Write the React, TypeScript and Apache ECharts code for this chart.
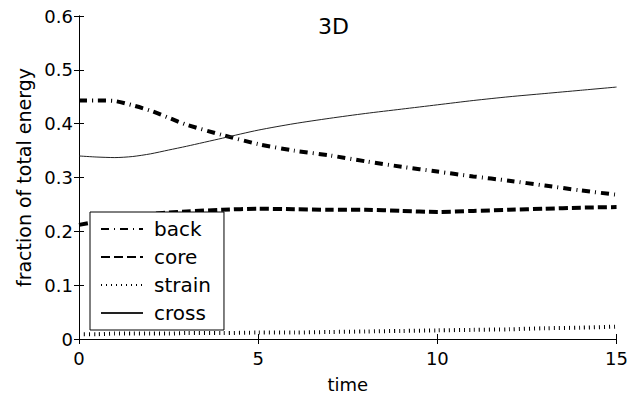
import React, { useEffect, useRef } from "react";
import * as echarts from "echarts";

const times = [0, 0.5, 1, 1.5, 2, 2.5, 3, 4, 5, 6, 7, 8, 9, 10, 11, 12, 13, 14, 15];
const back = [0.443, 0.443, 0.442, 0.434, 0.424, 0.411, 0.398, 0.379, 0.362, 0.35, 0.341, 0.33, 0.32, 0.311, 0.302, 0.294, 0.285, 0.276, 0.268];
const core = [0.212, 0.218, 0.225, 0.229, 0.232, 0.235, 0.237, 0.24, 0.242, 0.241, 0.24, 0.24, 0.238, 0.236, 0.238, 0.24, 0.242, 0.244, 0.245];
const strain = [0.009, 0.009, 0.01, 0.01, 0.01, 0.01, 0.011, 0.011, 0.012, 0.012, 0.013, 0.014, 0.015, 0.016, 0.017, 0.018, 0.02, 0.021, 0.023];
const cross = [0.34, 0.338, 0.337, 0.339, 0.344, 0.351, 0.358, 0.373, 0.388, 0.4, 0.41, 0.419, 0.427, 0.435, 0.443, 0.45, 0.456, 0.462, 0.468];
const seriesNames = ["back", "core", "strain", "cross"];
const title = "3D";
const xName = "time";
const yName = "fraction of total energy";

const FONT = "DejaVu Sans";

export default function App() {
  const ref = useRef<HTMLDivElement>(null);
  useEffect(() => {
    if (!ref.current) return;
    const chart = echarts.init(ref.current, null, { renderer: "svg" });
    const pairs = (vals: number[]) => times.map((t, i) => [t, vals[i]]);
    const styles = [
      { width: 4, type: [8, 5, 1, 5], color: "#000" },
      { width: 4, type: [9, 4], color: "#000" },
      { width: 4, type: [1, 4], color: "#000" },
      { width: 1, type: "solid", color: "#222" },
    ];
    const datasets = [back, core, strain, cross];
    const axisCommon = {
      axisLine: { show: true, lineStyle: { color: "#000", width: 1 } },
      axisTick: { show: true, inside: true, length: 5, lineStyle: { color: "#000" } },
      splitLine: { show: false },
    };
    chart.setOption({
      animation: false,
      backgroundColor: "#fff",
      title: {
        text: title,
        left: 318,
        top: 15,
        padding: 0,
        textStyle: { fontFamily: FONT, fontSize: 22, fontWeight: "normal", color: "#000" },
      },
      grid: { left: 79, right: 14, top: 16, bottom: 61 },
      legend: {
        orient: "vertical",
        left: 90,
        top: 212,
        backgroundColor: "#fff",
        borderColor: "#000",
        borderWidth: 1,
        borderRadius: 0,
        padding: [7, 13, 7, 10],
        itemWidth: 42,
        itemHeight: 14,
        itemGap: 8,
        itemStyle: { opacity: 0 },
        textStyle: { fontFamily: FONT, fontSize: 20, color: "#000", lineHeight: 20, padding: [0, 0, 0, 6] },
        data: seriesNames,
      },
      xAxis: [
        {
          type: "value",
          min: 0,
          max: 15,
          interval: 5,
          name: xName,
          nameLocation: "middle",
          nameGap: 36,
          nameTextStyle: { fontFamily: FONT, fontSize: 18, color: "#000" },
          axisLabel: { fontFamily: FONT, fontSize: 18, color: "#000", margin: 10 },
          ...axisCommon,
        },
        {
          type: "value",
          position: "top",
          min: 0,
          max: 15,
          interval: 5,
          axisLabel: { show: false },
          ...axisCommon,
        },
      ],
      yAxis: [
        {
          type: "value",
          min: 0,
          max: 0.6,
          interval: 0.1,
          name: yName,
          nameLocation: "middle",
          nameGap: 44,
          nameTextStyle: { fontFamily: FONT, fontSize: 19, color: "#000" },
          axisLabel: {
            fontFamily: FONT,
            fontSize: 18,
            color: "#000",
            margin: 6,
            formatter: (v: number) => (v === 0 ? "0" : v.toFixed(1)),
          },
          ...axisCommon,
        },
        {
          type: "value",
          position: "right",
          min: 0,
          max: 0.6,
          interval: 0.1,
          axisLabel: { show: false },
          ...axisCommon,
        },
      ],
      series: seriesNames.map((name, i) => ({
        name,
        type: "line",
        data: pairs(datasets[i]),
        showSymbol: false,
        symbol: "none",
        smooth: 0.25,
        lineStyle: styles[i],
        itemStyle: { color: styles[i].color },
        z: 2,
      })),
    });
    return () => chart.dispose();
  }, []);
  return (
    <div
      ref={ref}
      style={{ position: "fixed", left: 0, top: 0, width: 631, height: 400, background: "#fff" }}
    />
  );
}
